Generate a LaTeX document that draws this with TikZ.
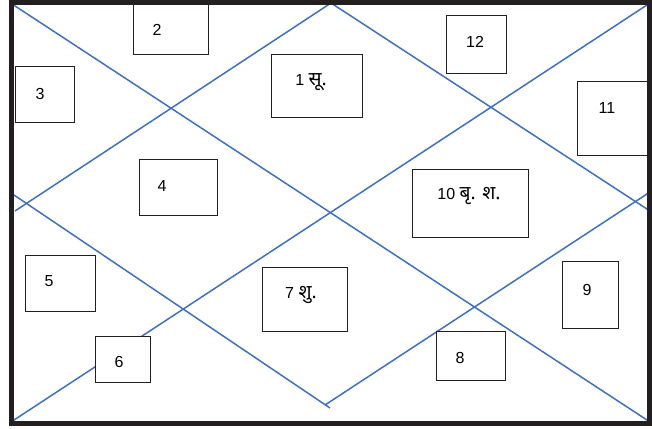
\documentclass[tikz,border=0pt]{standalone}
\usepackage{fontspec}
\setmainfont{Liberation Sans}
\newfontfamily\dev[Script=Devanagari,Scale=1.2]{Noto Sans}
\definecolor{chartblue}{RGB}{64,112,186}
\definecolor{framegray}{RGB}{35,31,32}
\tikzset{
  chartline/.style={draw=chartblue, line width=1.5pt},
  housebox/.style={draw=framegray, line width=1pt, fill=white, inner sep=0pt, anchor=north west},
  lbl/.style={font=\fontsize{16}{18}\selectfont, inner sep=0pt, text=black}
}
\begin{document}
\begin{tikzpicture}[x=1pt,y=-1pt]
\useasboundingbox (0,0) rectangle (652,428);
% corner and apex coordinates
\coordinate (TL) at (12,4);
\coordinate (TR) at (650,3);
\coordinate (BL) at (11,422);
\coordinate (BR) at (650,422);
\coordinate (Ntop) at (331,3);
\coordinate (Wa) at (15,211);
\coordinate (Wb) at (11,193);
\coordinate (Ea) at (650,211);
\coordinate (Eb) at (650,192);
\coordinate (Sa) at (330,408);
\coordinate (Sb) at (325,405);
% diagonals
\draw[chartline] (TL) -- (BR);
\draw[chartline] (BL) -- (TR);
% inner diamond
\draw[chartline] (Wa) -- (Ntop) -- (Ea);
\draw[chartline] (Wb) -- (Sa);
\draw[chartline] (Sb) -- (Eb);
% boxes
\node[housebox, minimum width=75pt, minimum height=51pt] (b2) at (133,3) {};
\node[housebox, minimum width=60pt, minimum height=58pt] (b12) at (446,15) {};
\node[housebox, minimum width=59pt, minimum height=56pt] (b3) at (15,66) {};
\node[housebox, minimum width=91pt, minimum height=63pt] (b1) at (271,54) {};
\node[housebox, minimum width=75pt, minimum height=74pt] (b11) at (577,81) {};
\node[housebox, minimum width=78pt, minimum height=56pt] (b4) at (139,159) {};
\node[housebox, minimum width=116pt, minimum height=68pt] (b10) at (412,169) {};
\node[housebox, minimum width=70pt, minimum height=56pt] (b5) at (25,255) {};
\node[housebox, minimum width=85pt, minimum height=64pt] (b7) at (262,267) {};
\node[housebox, minimum width=56pt, minimum height=67pt] (b9) at (562,261) {};
\node[housebox, minimum width=55pt, minimum height=46pt] (b6) at (95,336) {};
\node[housebox, minimum width=69pt, minimum height=49pt] (b8) at (436,331) {};
% labels
\node[lbl] (t2) at (157,30) {2};
\node[lbl] (t12) at (475,42) {12};
\node[lbl] (t3) at (40,94) {3};
\node[lbl] (t1) at (311,82) {1 {\dev सू.}};
\node[lbl] (t11) at (607,108) {11};
\node[lbl] (t4) at (162,186) {4};
\node[lbl] (t10) at (469,196) {10 {\dev बृ. श.}};
\node[lbl] (t5) at (49,281) {5};
\node[lbl] (t7) at (301,295) {7 {\dev शु.}};
\node[lbl] (t9) at (587,290) {9};
\node[lbl] (t6) at (119,362) {6};
\node[lbl] (t8) at (460,358) {8};
% outer frame
\draw[draw=framegray, line width=5pt] (11,3) rectangle (649,423);
\end{tikzpicture}
\end{document}
